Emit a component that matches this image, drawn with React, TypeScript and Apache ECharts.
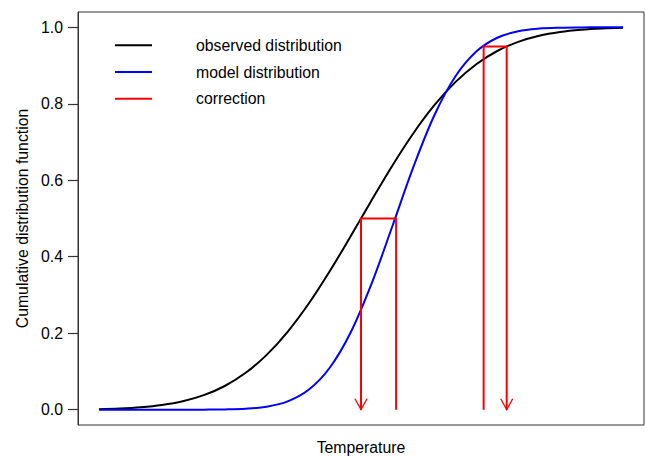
import React, { useEffect, useRef } from "react";
import * as echarts from "echarts";

// Temperature positions (arbitrary units, no tick labels on the x axis)
const temperature = [0, 4, 8, 12, 16, 20, 24, 28, 32, 36, 40, 44, 48, 52, 56, 60, 64, 68, 72, 76, 80, 84, 88, 92, 96, 100];
// Observed CDF (black curve)
const observedCdf = [0.0015, 0.0032, 0.0065, 0.0123, 0.0221, 0.038, 0.062, 0.0965, 0.1434, 0.2038, 0.277, 0.3613, 0.453, 0.547, 0.6387, 0.723, 0.7962, 0.8566, 0.9035, 0.938, 0.962, 0.9779, 0.9877, 0.9935, 0.9968, 0.9985];
// Model CDF (blue curve)
const modelCdf = [0, 0, 0, 0, 0, 0.0002, 0.0007, 0.0025, 0.0079, 0.0217, 0.052, 0.1091, 0.2012, 0.3289, 0.4804, 0.6349, 0.77, 0.8714, 0.9366, 0.9726, 0.9897, 0.9966, 0.999, 0.9997, 1.0, 1.0];
// Quantile-mapping corrections
const correctionModelX = [56.7, 73.4];
const correctionLevel = [0.5, 0.95];
const correctionObservedX = [50.0, 77.8];

const yTicks = [0, 0.2, 0.4, 0.6, 0.8, 1.0];
const seriesNames = ["observed distribution", "model distribution", "correction"];
const seriesColors = ["#000000", "#0000ff", "#ff0000"];

const X_MIN = -4;
const X_MAX = 104;
const FONT = "'Liberation Sans', Arial, Helvetica, sans-serif";
const FS = 15.8;

export default function App() {
  const ref = useRef<HTMLDivElement>(null);

  useEffect(() => {
    if (!ref.current) return;
    const chart = echarts.init(ref.current, undefined, { renderer: "svg" });
    const obsData = temperature.map((t, i) => [t, observedCdf[i]]);
    const modData = temperature.map((t, i) => [t, modelCdf[i]]);
    const corrData = correctionModelX.map((m, i) => [m, correctionLevel[i], correctionObservedX[i]]);

    chart.setOption({
      animation: false,
      textStyle: { fontFamily: FONT },
      grid: {
        left: 78, top: 12, right: 1, bottom: 31,
        containLabel: false, outerBoundsMode: "none",
        show: true, borderColor: "#333", borderWidth: 1, backgroundColor: "transparent",
      },
      legend: {
        orient: "vertical", left: 110, top: 27, padding: 5,
        itemWidth: 37, itemHeight: 2, itemGap: 0, selectedMode: false,
        data: seriesNames.map((n) => ({ name: n, icon: "rect" })),
        textStyle: { fontSize: FS, fontFamily: FONT, color: "#000", lineHeight: 26.7, padding: [0, 0, 0, 39] },
      },
      xAxis: {
        type: "value", min: X_MIN, max: X_MAX,
        name: "Temperature", nameLocation: "middle", nameGap: 14,
        nameTextStyle: { fontSize: FS, fontFamily: FONT, color: "#000" },
        axisLine: { show: false, onZero: false }, axisTick: { show: false },
        axisLabel: { show: false }, splitLine: { show: false },
      },
      yAxis: {
        type: "value", min: -0.04, max: 1.04,
        name: "Cumulative distribution function", nameLocation: "middle", nameGap: 48,
        nameTextStyle: { fontSize: FS, fontFamily: FONT, color: "#000" },
        axisLine: { show: true, onZero: false, lineStyle: { color: "#333", width: 1 } },
        axisTick: { show: true, length: 10, customValues: yTicks, lineStyle: { color: "#333", width: 1.2 } },
        axisLabel: {
          show: true, customValues: yTicks, margin: 15, fontSize: FS, fontFamily: FONT, color: "#000",
          formatter: (v: number) => v.toFixed(1),
        },
        splitLine: { show: false },
      },
      series: [
        { name: seriesNames[0], type: "line", data: obsData, color: seriesColors[0], symbol: "none", smooth: 0.35, lineStyle: { color: seriesColors[0], width: 2 } },
        { name: seriesNames[1], type: "line", data: modData, color: seriesColors[1], symbol: "none", smooth: 0.35, lineStyle: { color: seriesColors[1], width: 2 } },
        {
          name: seriesNames[2], type: "custom", color: seriesColors[2], data: corrData,
          encode: { x: [0, 2], y: 1 }, z: 5,
          renderItem: (params: any, api: any) => {
            const mx = api.value(0), lv = api.value(1), ox = api.value(2);
            const p0 = api.coord([mx, 0]), p1 = api.coord([mx, lv]), p2 = api.coord([ox, lv]), p3 = api.coord([ox, 0]);
            return {
              type: "group",
              children: [
                { type: "polyline", shape: { points: [p0, p1, p2, p3] }, style: { stroke: seriesColors[2], lineWidth: 2, fill: "none" } },
                { type: "polyline", shape: { points: [[p3[0] - 6, p3[1] - 11], [p3[0], p3[1]], [p3[0] + 6, p3[1] - 11]] }, style: { stroke: seriesColors[2], lineWidth: 1.3, fill: "none" } },
              ],
            };
          },
        },
      ],
    });
    return () => chart.dispose();
  }, []);

  return <div ref={ref} style={{ position: "absolute", left: 0, top: 0, width: 645, height: 456 }} />;
}
